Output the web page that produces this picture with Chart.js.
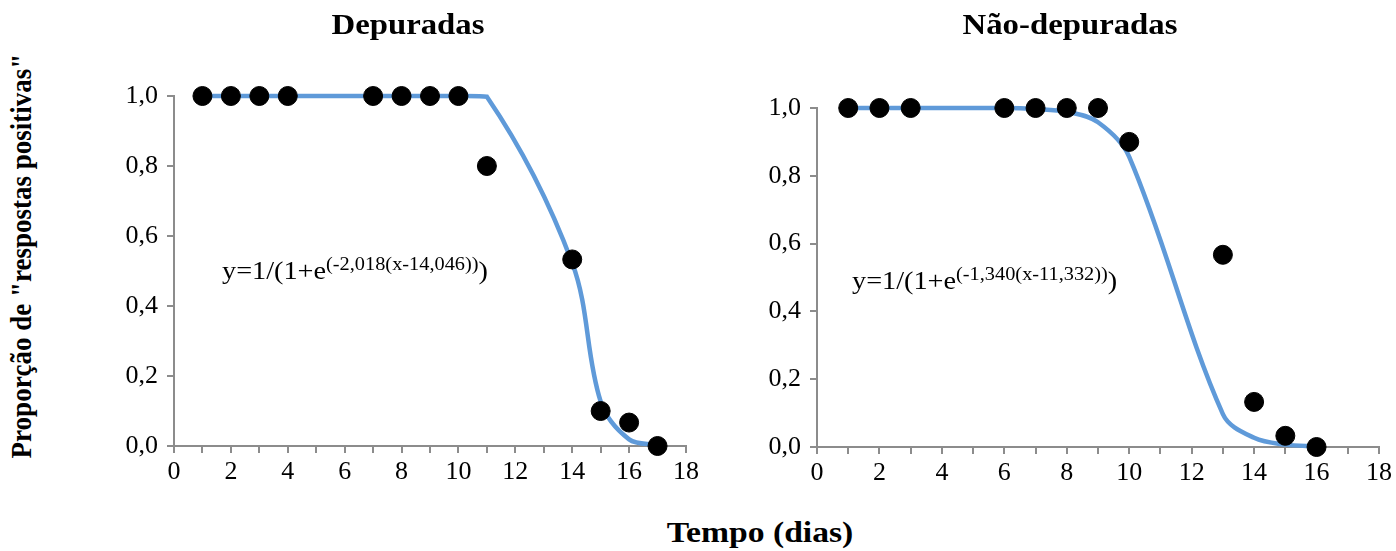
<!DOCTYPE html>
<html>
<head>
<meta charset="utf-8">
<script src="https://cdn.jsdelivr.net/npm/chart.js@4"></script>
<style>
  html, body { margin: 0; padding: 0; background: #fff; }
  body { width: 1396px; height: 551px; position: relative; overflow: hidden; font-family: 'Liberation Serif', 'Times New Roman', serif; color: #000; }
  canvas { position: absolute; }
  .t { position: absolute; white-space: nowrap; }
  .title { font-weight: bold; font-size: 29px; transform: translateX(-50%) scaleX(1.13); }
  .eq { font-size: 25px; transform: scaleX(1.13); transform-origin: 0 0; }
  .eq sup { font-size: 18px; vertical-align: 0.5em; line-height: 0; }
</style>
</head>
<body>
<canvas id="c1" width="636" height="500" style="left:80px;top:0px"></canvas>
<canvas id="c2" width="676" height="501" style="left:720px;top:0px"></canvas>

<div class="t title" style="left:408px;top:8px">Depuradas</div>
<div class="t title" style="left:1070px;top:8px">Não-depuradas</div>
<div class="t title" style="left:760px;top:516px;transform:translateX(-50%) scaleX(1.16)">Tempo (dias)</div>
<div class="t title" style="left:22px;top:256px;font-size:27px;transform:translate(-50%,-50%) rotate(-90deg) scaleY(1.1)">Proporção de "respostas positivas"</div>
<div class="t eq" style="left:222px;top:257px">y=1/(1+e<sup>(-2,018(x-14,046))</sup>)</div>
<div class="t eq" style="left:852px;top:267px">y=1/(1+e<sup>(-1,340(x-11,332))</sup>)</div>

<script>
// Data
const diasDep = [1, 2, 3, 4, 7, 8, 9, 10, 11, 14, 15, 16, 17];
const propDep = [1, 1, 1, 1, 1, 1, 1, 1, 0.8, 0.533, 0.1, 0.067, 0];
const ajusteDep = [1, 1, 1, 1, 1, 1, 1, 1, 0.998, 0.523, 0.127, 0.019, 0.003];

const diasNao = [1, 2, 3, 6, 7, 8, 9, 10, 13, 14, 15, 16];
const propNao = [1, 1, 1, 1, 1, 1, 1, 0.9, 0.567, 0.133, 0.033, 0];
const ajusteNao = [1, 1, 1, 1, 0.997, 0.989, 0.958, 0.856, 0.097, 0.027, 0.007, 0.002];

const xTicks = [0, 2, 4, 6, 8, 10, 12, 14, 16, 18];
const yTicks = ['0,0', '0,2', '0,4', '0,6', '0,8', '1,0'];

const AXIS = '#8c8c8c';
const LINE = '#5f9ad9';
const TICKFONT = { family: "'Liberation Serif', serif", size: 26 };

function pts(xs, ys) { return xs.map((x, i) => ({ x: x, y: ys[i] })); }

function makeChart(id, xs, ys, fit, yWidth, padTop, padRight) {
  new Chart(document.getElementById(id), {
    type: 'scatter',
    data: {
      datasets: [
        {
          data: pts(xs, ys),
          backgroundColor: '#000',
          borderColor: '#000',
          pointRadius: 9.5,
          pointHoverRadius: 9.5,
          showLine: false,
          clip: false,
          order: 0
        },
        {
          data: pts(xs, fit),
          borderColor: LINE,
          backgroundColor: LINE,
          borderWidth: 4.5,
          pointRadius: 0,
          showLine: true,
          tension: 0.35,
          clip: false,
          order: 1
        }
      ]
    },
    options: {
      responsive: false,
      animation: false,
      events: [],
      layout: { padding: { left: 0, right: padRight, top: padTop, bottom: 0 } },
      plugins: { legend: { display: false }, tooltip: { enabled: false }, title: { display: false } },
      scales: {
        x: {
          type: 'linear',
          min: 0, max: 18,
          afterFit: s => { s.height = 54; },
          afterBuildTicks: s => { s.ticks = []; for (let v = 0; v <= 18; v++) s.ticks.push({ value: v }); },
          ticks: {
            autoSkip: false,
            maxRotation: 0,
            color: '#000',
            font: TICKFONT,
            padding: 4,
            callback: v => (xTicks.indexOf(v) >= 0 ? String(v) : '')
          },
          grid: { drawOnChartArea: false, drawTicks: true, tickLength: 7, color: AXIS, lineWidth: 2 },
          border: { color: AXIS, width: 2 }
        },
        y: {
          type: 'linear',
          min: 0, max: 1,
          afterFit: s => { s.width = yWidth; },
          afterBuildTicks: s => { s.ticks = yTicks.map((t, i) => ({ value: i * 0.2 })); },
          ticks: {
            color: '#000',
            font: TICKFONT,
            padding: 9,
            callback: (v, i) => yTicks[i]
          },
          grid: { drawOnChartArea: false, drawTicks: true, tickLength: 7, color: AXIS, lineWidth: 2 },
          border: { color: AXIS, width: 2 }
        }
      }
    }
  });
}

makeChart('c1', diasDep, propDep, ajusteDep, 94, 96, 30);
makeChart('c2', diasNao, propNao, ajusteNao, 97, 108, 17);
</script>
</body>
</html>
